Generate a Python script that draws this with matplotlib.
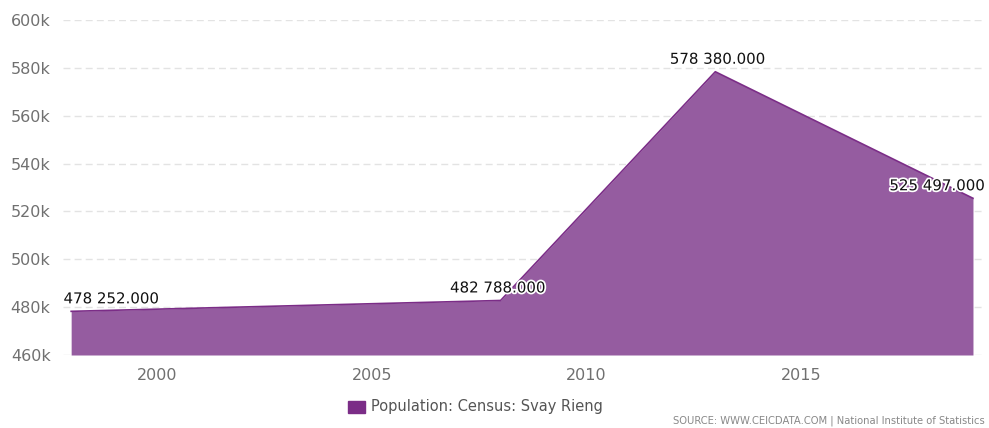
import matplotlib
matplotlib.use("Agg")
import matplotlib.pyplot as plt
import matplotlib.patheffects as pe
from matplotlib.ticker import FuncFormatter

# Census population, Svay Rieng province
years = [1998, 2008, 2013, 2019]
population = [478252, 482788, 578380, 525497]
series_name = "Population: Census: Svay Rieng"
x_ticks = [2000, 2005, 2010, 2015]
y_ticks = [460000, 480000, 500000, 520000, 540000, 560000, 580000, 600000]
source_text = "SOURCE: WWW.CEICDATA.COM | National Institute of Statistics"

line_color = "#7b2d87"
fill_color = "#955ca0"
tick_color = "#707070"
grid_color = "#e3e3e3"

W, H = 989, 428
fig = plt.figure(figsize=(W / 100, H / 100), dpi=100)
ax = fig.add_axes([63 / W, 73 / H, (985 - 63) / W, (408 - 73) / H])

ax.fill_between(years, population, y_ticks[0], color=fill_color, linewidth=0, zorder=2)
ax.plot(years, population, color=line_color, linewidth=1.2, zorder=3)

ax.set_xlim(1997.81, 2019.28)
ax.set_ylim(y_ticks[0], y_ticks[-1])
ax.set_xticks(x_ticks)
ax.set_yticks(y_ticks)
ax.yaxis.set_major_formatter(FuncFormatter(lambda v, p: f"{int(v / 1000)}k"))
ax.tick_params(axis="both", length=0, labelcolor=tick_color, labelsize=11.5)
ax.tick_params(axis="x", pad=9)
ax.tick_params(axis="y", pad=9)
ax.grid(axis="y", color=grid_color, linestyle=(0, (5, 3)), linewidth=1, zorder=1)
for s in ax.spines.values():
    s.set_visible(False)

# value labels, nudged to stay inside the plot area at the edges
label_shift = [(40, 5), (-3, 5), (2, 5), (-36, 5)]
for x, y, (dx, dy) in zip(years, population, label_shift):
    txt = f"{y:,}".replace(",", " ") + ".000"
    ax.annotate(txt, (x, y), xytext=(dx, dy), textcoords="offset pixels",
                ha="center", va="bottom", fontsize=10.8, color="#111111", zorder=5,
                path_effects=[pe.withStroke(linewidth=2.5, foreground="white")])

# legend
fig.patches.append(plt.Rectangle((348 / W, (428 - 413) / H), 17 / W, 12 / H,
                                 transform=fig.transFigure, color=line_color))
fig.text(371 / W, (428 - 407) / H, series_name, fontsize=10.5, color="#555555",
         ha="left", va="center")
fig.text(985 / W, (428 - 424) / H, source_text, fontsize=7.2, color="#888888",
         ha="right", va="baseline")

fig.savefig("out.png", dpi=100)
